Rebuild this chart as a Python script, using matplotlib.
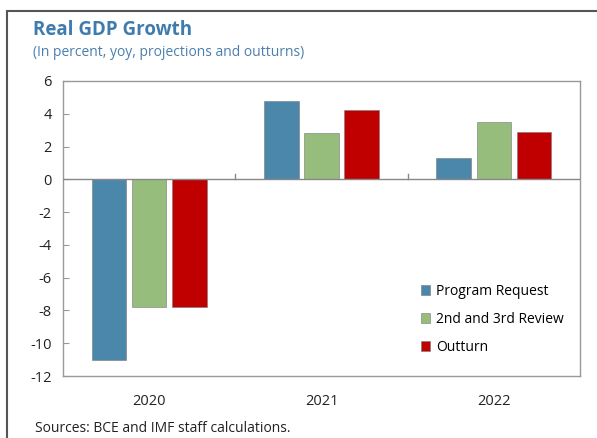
import numpy as np
import matplotlib.pyplot as plt
from matplotlib.patches import Rectangle

plt.rcParams['font.family'] = ['Open Sans', 'DejaVu Sans']
plt.rcParams['axes.unicode_minus'] = False

years = ['2020', '2021', '2022']
series_names = ['Program Request', '2nd and 3rd Review', 'Outturn']
program_request = [-11.0, 4.8, 1.3]
review_2_3 = [-7.8, 2.8, 3.5]
outturn = [-7.8, 4.2, 2.9]
colors = ['#4a87aa', '#96bd7c', '#c00000']

fig = plt.figure(figsize=(5.97, 4.38), dpi=100)
ax = fig.add_axes([63 / 597, 1 - 376 / 438, 517 / 597, 295 / 438])

x = np.arange(len(years))
width = 0.2
step = 0.233
for i, (vals, name) in enumerate(zip([program_request, review_2_3, outturn], series_names)):
    ax.bar(x + (i - 1) * step, vals, width, color=colors[i], label=name,
           edgecolor='#777777', linewidth=0.4, zorder=2)

ax.set_xlim(-0.5, 2.5)
ax.set_ylim(-12, 6)
ax.set_yticks(np.arange(-12, 7, 2))
ax.set_xticks(x)
ax.set_xticklabels(years)
ax.axhline(0, color='#888888', linewidth=1.0, zorder=3)
for b in [0.5, 1.5]:
    ax.plot([b, b], [0, 0.3], color='#888888', linewidth=1.0, zorder=3)

for s in ax.spines.values():
    s.set_color('#999999')
    s.set_linewidth(1.0)
ax.tick_params(axis='y', direction='in', length=4, color='#999999',
               labelsize=10.5, labelcolor='#222222', pad=8)
ax.tick_params(axis='x', length=0, labelsize=10.5, labelcolor='#222222', pad=13)

ax.legend(loc='upper left', bbox_to_anchor=(415 / 597, 1 - 278 / 438),
          bbox_transform=fig.transFigure, frameon=False, fontsize=10,
          handlelength=0.7, handleheight=0.7, handletextpad=0.4,
          labelspacing=0.95, borderaxespad=0)

fig.text(33 / 597, 1 - 30 / 438, 'Real GDP Growth', fontsize=13.5, fontweight='bold',
         color='#3f7cad', va='center', ha='left')
fig.text(33 / 597, 1 - 53 / 438, '(In percent, yoy, projections and outturns)',
         fontsize=10, color='#4a7fae', va='center', ha='left')
fig.text(35 / 597, 1 - 429 / 438, 'Sources: BCE and IMF staff calculations.',
         fontsize=10, color='#222222', va='center', ha='left')

fig.patches.append(Rectangle((7 / 597, -0.2), 1.2, 1 - 11 / 438 + 0.2,
                             transform=fig.transFigure, fill=False,
                             edgecolor='#555555', linewidth=1.5))

fig.savefig('out.png', dpi=100)
